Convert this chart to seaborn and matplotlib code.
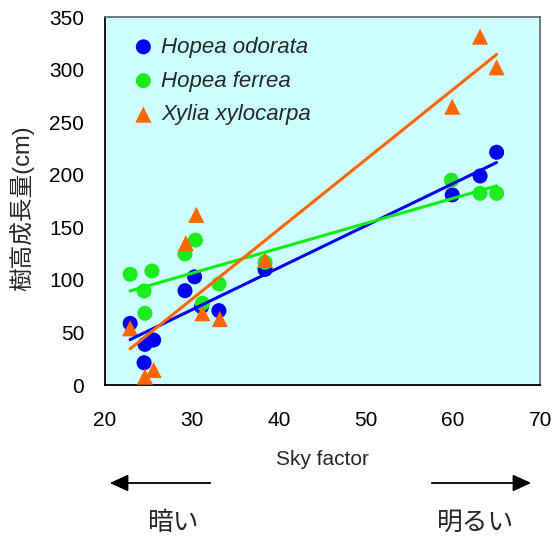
import numpy as np
import pandas as pd
import matplotlib
matplotlib.use("Agg")
import matplotlib.pyplot as plt
import seaborn as sns

sns.set_theme(style="white")
plt.rcParams['font.family'] = ['Liberation Sans', 'Noto Sans CJK JP', 'DejaVu Sans']

# Data
odorata_x = [22.9, 24.6, 25.6, 24.5, 29.2, 30.3, 31.1, 33.1, 38.4, 59.9, 63.1, 65.0]
odorata_y = [58.7, 38.7, 42.8, 21.2, 89.8, 103.0, 74.6, 70.8, 110.0, 181.0, 199.0, 221.6]

ferrea_x = [22.9, 25.4, 24.5, 24.6, 29.2, 30.4, 31.2, 33.1, 38.4, 59.8, 63.1, 65.0]
ferrea_y = [105.4, 108.6, 89.5, 68.3, 124.8, 138.0, 77.8, 96.2, 116.8, 195.0, 182.5, 182.5]

xylia_x = [22.9, 24.6, 25.6, 29.3, 30.5, 31.2, 33.2, 38.4, 59.9, 63.1, 65.0]
xylia_y = [54.0, 8.0, 14.3, 135.0, 162.0, 68.3, 62.8, 119.0, 265.0, 331.7, 302.5]

species = ["Hopea odorata", "Hopea ferrea", "Xylia xylocarpa"]
colors = ["#0000F0", "#1EEB1E", "#FF6600"]
line_colors = ["#0000F0", "#11EE11", "#FF6600"]
markers = ["o", "o", "^"]

x_ticks = [20, 30, 40, 50, 60, 70]
y_ticks = [0, 50, 100, 150, 200, 250, 300, 350]

df = pd.concat([
    pd.DataFrame({"x": odorata_x, "y": odorata_y, "sp": species[0]}),
    pd.DataFrame({"x": ferrea_x, "y": ferrea_y, "sp": species[1]}),
    pd.DataFrame({"x": xylia_x, "y": xylia_y, "sp": species[2]}),
])

fig = plt.figure(figsize=(5.58, 5.39), dpi=100)
ax = fig.add_axes([0.188, 0.2857, 0.780, 0.682])
ax.set_facecolor("#CCFFFF")

for sp, c, lc, m in zip(species, colors, line_colors, markers):
    sub = df[df.sp == sp]
    sns.scatterplot(data=sub, x="x", y="y", ax=ax, color=c, marker=m,
                    s=117 if m == "o" else 135, edgecolor="none", zorder=3,
                    label=sp, clip_on=False)
for sp, c, lc, m in zip(species, colors, line_colors, markers):
    sub = df[df.sp == sp]
    sns.regplot(data=sub, x="x", y="y", ax=ax, ci=None, scatter=False,
                line_kws=dict(color=lc, lw=2.2, zorder=4))

ax.set_xlim(20, 70)
ax.set_ylim(0, 350)
ax.set_xticks(x_ticks)
ax.set_yticks(y_ticks)
ax.tick_params(axis="both", direction="in", length=5, width=1, labelsize=15,
               colors="black")
ax.tick_params(axis="x", pad=19)
ax.tick_params(axis="y", pad=15)
for s in ["left", "bottom"]:
    ax.spines[s].set_color("black")
    ax.spines[s].set_linewidth(1.3)
for s in ["top", "right"]:
    ax.spines[s].set_color("#607070")
    ax.spines[s].set_linewidth(1.3)

ax.set_xlabel("Sky factor", fontsize=15, labelpad=14)
ax.set_ylabel("樹高成長量(cm)", fontsize=17)
ax.yaxis.set_label_coords(-0.163, 0.48)

leg = ax.legend(loc="upper left", frameon=False, fontsize=16, handletextpad=0.2,
                handlelength=1.2, labelspacing=0.58, borderaxespad=0.3,
                markerscale=1.0, bbox_to_anchor=(0.022, 0.99))
for t in leg.get_texts():
    t.set_fontstyle("italic")

# Arrows and annotations below the axes
fig.patches.append(matplotlib.patches.FancyArrowPatch(
    (213 / 558, 1 - 483 / 539), (107 / 558, 1 - 483 / 539),
    transform=fig.transFigure, arrowstyle="-|>,head_length=7,head_width=3.2",
    mutation_scale=1.6, color="black", lw=1.3))
fig.patches.append(matplotlib.patches.FancyArrowPatch(
    (429 / 558, 1 - 483 / 539), (534 / 558, 1 - 483 / 539),
    transform=fig.transFigure, arrowstyle="-|>,head_length=7,head_width=3.2",
    mutation_scale=1.6, color="black", lw=1.3))
fig.text(173 / 558, 1 - 523 / 539, "暗い", fontsize=18.5, ha="center", va="center",
         family=["Noto Sans CJK JP"])
fig.text(476 / 558, 1 - 523 / 539, "明るい", fontsize=18.5, ha="center", va="center",
         family=["Noto Sans CJK JP"])

fig.savefig("out.png", dpi=100, facecolor="white")
